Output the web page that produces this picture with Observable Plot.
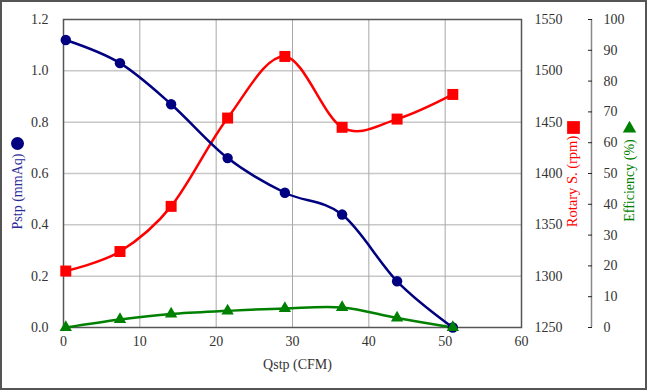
<!DOCTYPE html>
<html><head><meta charset="utf-8">
<script src="https://cdn.jsdelivr.net/npm/d3@7"></script>
<script src="https://cdn.jsdelivr.net/npm/@observablehq/plot@0.6"></script>
<style>
html,body{margin:0;padding:0;background:#fff;}
#chart svg{display:block;outline:2px solid #555;outline-offset:-2px;font-family:"Liberation Serif","Times New Roman",serif !important;font-size:14px;}
#chart svg text{font-family:"Liberation Serif","Times New Roman",serif !important;}
</style></head><body><div id="chart"></div>
<script>
const qstp = [0.3, 7.4, 14.1, 21.5, 29.0, 36.5, 43.7, 51.0];
const pstp = [1.12, 1.03, 0.87, 0.66, 0.525, 0.44, 0.18, 0.0];
const rpm = [1305, 1324, 1368, 1454, 1514, 1445, 1453, 1477];
const eff = [0.0, 2.6, 4.4, 5.4, 6.2, 6.5, 3.1, 0.0];

const xTicks = [0, 10, 20, 30, 40, 50, 60];
const pTicks = [0, 0.2, 0.4, 0.6, 0.8, 1.0, 1.2];
const rpmTicks = [1250, 1300, 1350, 1400, 1450, 1500, 1550];
const effTicks = [0, 10, 20, 30, 40, 50, 60, 70, 80, 90, 100];

const xTitle = "Qstp (CFM)";
const pTitle = "Pstp (mmAq)";
const rpmTitle = "Rotary S. (rpm)";
const effTitle = "Efficiency (%)";

const pMax = 1.2, rpmMin = 1250, rpmMax = 1550, effMax = 100;
const toY1 = r => (r - rpmMin) / (rpmMax - rpmMin) * pMax;
const toY2 = e => e / effMax * pMax;
const rows = qstp.map((q, i) => ({q, p: pstp[i], r: toY1(rpm[i]), e: toY2(eff[i])}));

const navy = "#000080", red = "#ff0000", green = "#008000";

const chart = Plot.plot({
  width: 647, height: 390,
  marginLeft: 63, marginRight: 126, marginTop: 19, marginBottom: 63,
  style: {fontFamily: "Liberation Serif, serif", fontSize: "14px", background: "#fff", color: "#333"},
  x: {domain: [0, 60]},
  y: {domain: [0, pMax]},
  marks: [
    Plot.gridY(pTicks.slice(1, -1), {stroke: "#c8c8c8", strokeOpacity: 1, strokeWidth: 1.5}),
    Plot.gridX(xTicks.slice(1, -1), {stroke: "#a8a8a8", strokeOpacity: 1}),
    Plot.frame({stroke: "#555", strokeWidth: 1.5}),
    Plot.axisX(xTicks, {tickSize: 0, tickPadding: 9, label: null, fill: "#333"}),
    Plot.axisY(pTicks, {tickSize: 0, tickPadding: 15, tickFormat: d => d.toFixed(1), label: null, fill: "#333"}),
    Plot.axisY(rpmTicks.map(toY1), {anchor: "right", tickSize: 0, tickPadding: 13, label: null, fill: "#333",
      tickFormat: d => String(Math.round(rpmMin + d / pMax * (rpmMax - rpmMin)))}),
    Plot.ruleX([60], {dx: 70, stroke: "#888", strokeWidth: 1.5}),
    Plot.axisY(effTicks.map(toY2), {anchor: "right", dx: 70, tickSize: -4, tickPadding: 16, label: null, fill: "#333", stroke: "#222",
      tickFormat: d => String(Math.round(d / pMax * effMax))}),
    Plot.line(rows, {x: "q", y: "e", stroke: green, strokeWidth: 2.5, curve: "cardinal"}),
    Plot.line(rows, {x: "q", y: "r", stroke: red, strokeWidth: 2.5, curve: "cardinal"}),
    Plot.line(rows, {x: "q", y: "p", stroke: navy, strokeWidth: 2.5, curve: "cardinal"}),
    Plot.dot(rows, {x: "q", y: "p", r: 5.2, fill: navy}),
    Plot.dot(rows, {x: "q", y: "r", r: 6.2, symbol: "square", fill: red}),
    Plot.dot(rows, {x: "q", y: "e", r: 4.6, symbol: "triangle", fill: green}),
    Plot.text([xTitle], {text: d => d, frameAnchor: "bottom", dx: 5, dy: 41, fill: "#333", textAnchor: "middle"}),
    Plot.text([pTitle], {text: d => d, frameAnchor: "left", dx: -46, dy: 18, rotate: -90, fill: "#2b2b99", textAnchor: "middle"}),
    Plot.dot([pTitle], {frameAnchor: "left", dx: -46, dy: -30, r: 6.5, fill: navy}),
    Plot.text([rpmTitle], {text: d => d, frameAnchor: "right", dx: 51, dy: 8, rotate: -90, fill: red, textAnchor: "middle", fontSize: 14.5}),
    Plot.dot([rpmTitle], {frameAnchor: "right", dx: 52, dy: -46, r: 7.2, symbol: "square", fill: red}),
    Plot.text([effTitle], {text: d => d, frameAnchor: "right", dx: 108, dy: 7, rotate: -90, fill: green, textAnchor: "middle"}),
    Plot.dot([effTitle], {frameAnchor: "right", dx: 108, dy: -45, r: 5, symbol: "triangle", fill: green})
  ]
});
document.getElementById("chart").append(chart);
</script></body></html>
